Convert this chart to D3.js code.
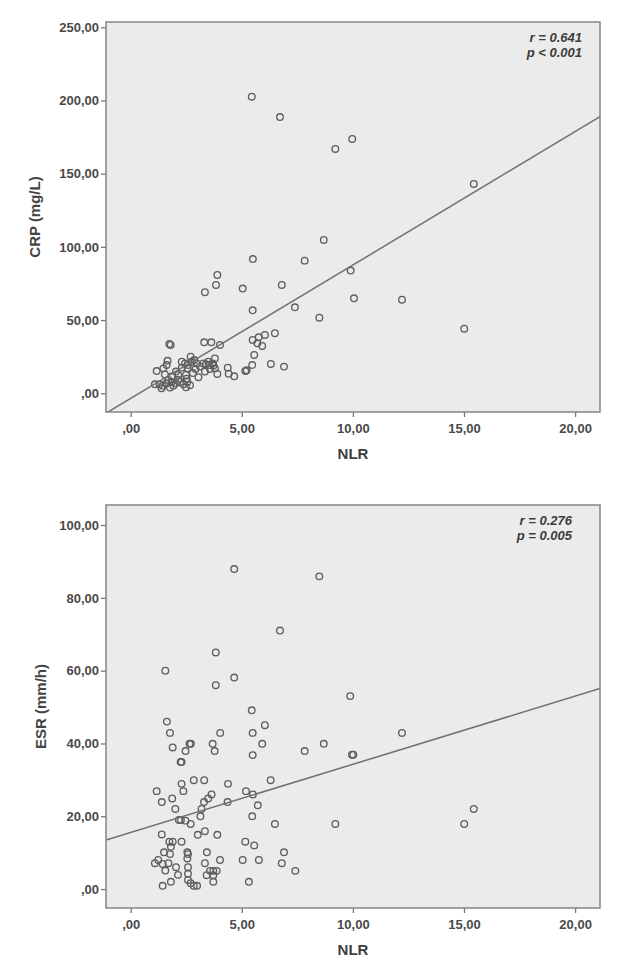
<!DOCTYPE html>
<html>
<head>
<meta charset="utf-8">
<script src="https://cdn.jsdelivr.net/npm/d3@7/dist/d3.min.js"></script>
<style>
  html, body { margin: 0; padding: 0; background: #ffffff; }
  svg { display: block; }
  text { font-family: "Liberation Sans", Arial, sans-serif; }
</style>
</head>
<body>
<svg id="chart" width="642" height="974"></svg>
<script>
// ---------- DATA ----------
const xTicks = [0, 5, 10, 15, 20];
const crpTicks = [0, 50, 100, 150, 200, 250];
const esrTicks = [0, 20, 40, 60, 80, 100];

// Panel A: NLR vs CRP
const crpNLR = [5.45, 6.72, 9.97, 9.21, 15.44, 8.69, 5.50, 7.83, 9.90, 3.90, 3.84, 6.80, 5.04, 3.34, 10.05, 12.21,
  5.49, 7.39, 8.49, 15.01, 6.49, 6.04, 5.76, 5.49, 5.70, 5.92, 5.56, 5.47, 6.31, 6.90, 5.22, 5.16, 4.66, 4.41, 4.37,
  3.90, 4.02, 3.63, 3.31, 1.74, 1.80, 2.70, 2.75, 2.97, 3.12, 3.27, 3.39, 3.54, 3.69, 3.79, 3.79, 3.57, 3.34, 2.86,
  2.45, 2.30, 2.56, 2.30, 2.04, 1.66, 1.62, 1.47, 1.17, 1.54, 1.84, 2.14, 2.49, 1.09, 1.29, 1.44, 1.39, 1.62, 1.77,
  1.84, 2.04, 2.22, 2.37, 2.55, 2.67, 1.92, 2.49, 2.14, 2.52, 1.70, 2.58, 2.92, 3.49, 3.73, 2.80, 3.05];
const crpVal = [202.6, 188.7, 173.7, 166.9, 143.0, 104.7, 91.7, 90.6, 83.8, 80.8, 74.0, 74.0, 71.5, 69.0, 64.9, 63.9,
  56.7, 58.7, 51.6, 44.1, 41.0, 39.8, 38.2, 36.4, 34.1, 32.3, 26.2, 19.3, 20.0, 18.2, 15.7, 15.2, 11.6, 13.4, 17.5,
  13.2, 33.0, 34.8, 34.8, 33.7, 33.0, 25.0, 21.6, 20.4, 18.2, 20.4, 19.8, 19.3, 20.4, 23.8, 17.0, 16.6, 14.8, 22.7,
  20.4, 21.6, 17.0, 17.5, 14.8, 22.2, 19.3, 17.0, 15.2, 12.9, 11.4, 12.5, 12.5, 6.1, 6.1, 5.2, 3.4, 6.8, 3.9,
  7.7, 6.8, 7.7, 6.1, 7.7, 5.5, 5.2, 4.1, 9.3, 10.0, 9.1, 19.3, 16.6, 21.6, 18.9, 13.8, 11.0];
const crpFit = { intercept: -3.5, slope: 9.11 };
const crpStats = ["r = 0.641", "p < 0.001"];

// Panel B: NLR vs ESR
const esrNLR = [4.66, 8.49, 6.72, 3.83, 1.56, 4.66, 3.83, 9.88, 5.45, 1.63, 6.04, 1.77, 4.03, 5.49, 12.21, 2.71,
  2.65, 3.69, 5.92, 8.69, 1.89, 2.47, 3.78, 7.83, 5.49, 10.02, 9.96, 2.25, 2.29, 2.84, 3.31, 6.30, 2.29, 4.38, 1.17,
  2.37, 5.19, 5.50, 3.64, 3.49, 1.87, 1.40, 4.36, 3.30, 5.72, 2.01, 3.19, 3.14, 5.47, 2.17, 2.26, 2.47, 2.70, 6.49,
  9.21, 15.01, 15.44, 1.40, 3.02, 3.34, 3.90, 1.74, 1.89, 2.29, 5.16, 5.56, 1.81, 1.50, 2.55, 2.58, 3.43, 6.90, 1.77,
  1.24, 1.09, 1.44, 1.70, 2.55, 4.02, 5.04, 5.77, 6.80, 3.34, 1.56, 2.04, 2.58, 7.41, 3.72, 3.87, 3.57, 3.42, 3.72,
  2.13, 2.58, 1.81, 1.44, 2.70, 2.84, 2.99, 3.72, 5.32, 2.58];
const esrVal = [87.9, 85.9, 71.0, 65.0, 60.0, 58.1, 56.0, 53.0, 49.1, 46.0, 45.0, 42.9, 42.9, 42.9, 42.9, 39.9,
  39.9, 39.9, 39.9, 39.9, 38.9, 37.9, 37.9, 37.9, 36.8, 36.9, 36.9, 34.9, 34.9, 29.9, 29.9, 29.9, 28.9, 28.9, 26.9,
  26.9, 26.9, 26.0, 26.0, 24.9, 24.9, 23.9, 23.9, 23.9, 23.0, 22.0, 22.0, 20.0, 20.0, 19.0, 19.0, 18.8, 17.9, 17.9,
  17.9, 17.9, 22.0, 15.0, 14.9, 15.9, 14.9, 13.0, 13.0, 13.0, 13.0, 12.0, 11.6, 10.1, 10.1, 9.6, 10.1, 10.1, 9.6,
  8.0, 7.1, 6.9, 7.1, 8.4, 8.0, 8.0, 8.0, 7.1, 7.1, 5.1, 6.0, 6.0, 5.0, 5.0, 5.0, 5.0, 3.8, 3.8,
  3.9, 4.2, 2.0, 0.9, 1.6, 0.9, 0.9, 2.0, 2.0, 2.5];
const esrFit = { intercept: 15.54, slope: 1.873 };
const esrStats = ["r = 0.276", "p = 0.005"];

// ---------- DRAW ----------
const svg = d3.select("#chart");
const fmt = v => v === 0 ? ",00" : v.toFixed(2).replace(".", ",");

function panel(cfg) {
  const x = d3.scaleLinear().domain(cfg.xDomain).range([106, 600]);
  const y = d3.scaleLinear().domain(cfg.yDomain).range([cfg.bottom, cfg.top]);
  const g = svg.append("g");
  const clipId = "clip" + cfg.id;
  g.append("clipPath").attr("id", clipId).append("rect")
    .attr("x", 106).attr("y", cfg.top).attr("width", 494).attr("height", cfg.bottom - cfg.top);

  g.append("rect").attr("x", 106).attr("y", cfg.top).attr("width", 494).attr("height", cfg.bottom - cfg.top)
    .attr("fill", "#ebebeb");

  // axes
  const xa = g.append("g").attr("transform", `translate(0,${cfg.bottom})`)
    .call(d3.axisBottom(x).tickValues(xTicks).tickFormat(fmt).tickSize(5).tickPadding(4));
  const ya = g.append("g").attr("transform", "translate(106,0)")
    .call(d3.axisLeft(y).tickValues(cfg.yTicks).tickFormat(fmt).tickSize(5).tickPadding(2));
  [xa, ya].forEach(a => {
    a.select(".domain").remove();
    a.selectAll(".tick line").attr("stroke", "#777").attr("stroke-width", 1.3);
    a.selectAll(".tick text").attr("fill", "#4a4a4a").attr("font-size", "13px").attr("font-weight", "bold");
  });
  xa.selectAll(".tick text").attr("dy", "0.95em");

  // points
  g.append("g").selectAll("circle").data(cfg.xs.map((v, i) => [v, cfg.ys[i]])).join("circle")
    .attr("cx", d => x(d[0])).attr("cy", d => y(d[1])).attr("r", 3.3)
    .attr("fill", "none").attr("stroke", "#5e5e5e").attr("stroke-width", 1.35);

  // fit line
  const xd = x.domain();
  g.append("line").attr("clip-path", `url(#${clipId})`)
    .attr("x1", x(xd[0])).attr("y1", y(cfg.fit.intercept + cfg.fit.slope * xd[0]))
    .attr("x2", x(xd[1])).attr("y2", y(cfg.fit.intercept + cfg.fit.slope * xd[1]))
    .attr("stroke", "#707070").attr("stroke-width", 1.5);

  // frame
  g.append("rect").attr("x", 106).attr("y", cfg.top).attr("width", 494).attr("height", cfg.bottom - cfg.top)
    .attr("fill", "none").attr("stroke", "#858585").attr("stroke-width", 1.5);

  // stats
  cfg.stats.forEach((s, i) => {
    g.append("text").attr("x", cfg.statX).attr("y", cfg.top + 20 + i * 15)
      .attr("text-anchor", "end").attr("font-size", "13px").attr("font-weight", "bold")
      .attr("font-style", "italic").attr("fill", "#3c3c3c").text(s);
  });

  // axis titles
  g.append("text").attr("x", 353).attr("y", cfg.bottom + 47).attr("text-anchor", "middle")
    .attr("font-size", "15px").attr("font-weight", "bold").attr("fill", "#3f3f3f").text("NLR");
  g.append("text").attr("transform", `translate(${cfg.titleX},${(cfg.top + cfg.bottom) / 2}) rotate(-90)`)
    .attr("text-anchor", "middle").attr("font-size", "15px").attr("font-weight", "bold")
    .attr("fill", "#444").text(cfg.yTitle);
}

panel({ id: "a", xDomain: [-1.11, 21.12], yDomain: [-12.8, 253.6], top: 22, bottom: 412,
  yTicks: crpTicks, xs: crpNLR, ys: crpVal, fit: crpFit, stats: crpStats, statX: 582,
  yTitle: "CRP (mg/L)", titleX: 40 });
panel({ id: "b", xDomain: [-1.11, 21.12], yDomain: [-5.2, 105.5], top: 505, bottom: 908,
  yTicks: esrTicks, xs: esrNLR, ys: esrVal, fit: esrFit, stats: esrStats, statX: 572,
  yTitle: "ESR (mm/h)", titleX: 46 });
</script>
</body>
</html>
